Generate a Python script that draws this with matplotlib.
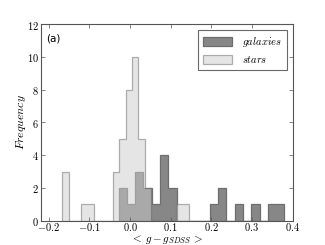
import numpy as np
import matplotlib
matplotlib.use('Agg')
import matplotlib.pyplot as plt
from matplotlib.ticker import FuncFormatter

# histogram counts (20 equal bins each)
star_lo, star_hi = -0.1665, 0.1452
star_counts = [3, 0, 0, 1, 1, 0, 0, 0, 3, 5, 8, 10, 5, 2, 0, 0, 0, 0, 1, 1]
gal_lo, gal_hi = -0.028, 0.380
gal_counts = [2, 1, 3, 2, 1, 4, 2, 0, 0, 0, 0, 1, 2, 0, 1, 0, 1, 0, 1, 1]

x_ticks = [-0.2, -0.1, 0.0, 0.1, 0.2, 0.3, 0.4]
y_ticks = [0, 2, 4, 6, 8, 10, 12]

plt.rcParams['mathtext.fontset'] = 'cm'
plt.rcParams['xtick.direction'] = 'in'
plt.rcParams['ytick.direction'] = 'in'

star_edges = np.linspace(star_lo, star_hi, len(star_counts) + 1)
gal_edges = np.linspace(gal_lo, gal_hi, len(gal_counts) + 1)
star_mid = 0.5 * (star_edges[:-1] + star_edges[1:])
gal_mid = 0.5 * (gal_edges[:-1] + gal_edges[1:])

fig = plt.figure(figsize=(3.25, 2.45), dpi=100)
ax = fig.add_axes([0.125, 0.1, 0.775, 0.8])

ax.hist(gal_mid, bins=gal_edges, weights=gal_counts, histtype='stepfilled',
        facecolor='#878787', edgecolor='#6e6e6e', lw=0.9, label='$galaxies$')
ax.hist(star_mid, bins=star_edges, weights=star_counts, histtype='stepfilled',
        facecolor='0.8', edgecolor='0.4', alpha=0.5, lw=0.9, label='$stars$')

ax.set_xlim(-0.22, 0.4)
ax.set_ylim(0, 12)
ax.set_xticks(x_ticks)
ax.set_yticks(y_ticks)
ax.xaxis.set_major_formatter(FuncFormatter(lambda v, p: r'$%.1f$' % v))
ax.yaxis.set_major_formatter(FuncFormatter(lambda v, p: r'$%d$' % v))
ax.tick_params(labelsize=7.5, top=True, right=True, length=3, width=0.5,
               color='#555555', pad=1.5)
ax.tick_params(axis='x', pad=0.5)
for s in ax.spines.values():
    s.set_color('#555555')
    s.set_linewidth(0.8)

ax.set_xlabel(r'$<\, g - g_{SDSS}\, >$', fontsize=8, va='center')
ax.set_ylabel(r'$Frequency$', fontsize=8.5, va='center')
ax.xaxis.set_label_coords(0.5, -0.095)
ax.yaxis.set_label_coords(-0.076, 0.5)
ax.text(0.02, 0.955, '(a)', transform=ax.transAxes, va='top', ha='left',
        fontsize=7.5)

leg = ax.legend(loc='upper right', fontsize=7.5, fancybox=False,
                handlelength=2.8, handleheight=1.0, borderpad=0.45,
                labelspacing=0.5, borderaxespad=0.55, handletextpad=1.0)
leg.get_frame().set_edgecolor('#444444')
leg.get_frame().set_linewidth(0.8)

fig.savefig('out.png', dpi=100)
